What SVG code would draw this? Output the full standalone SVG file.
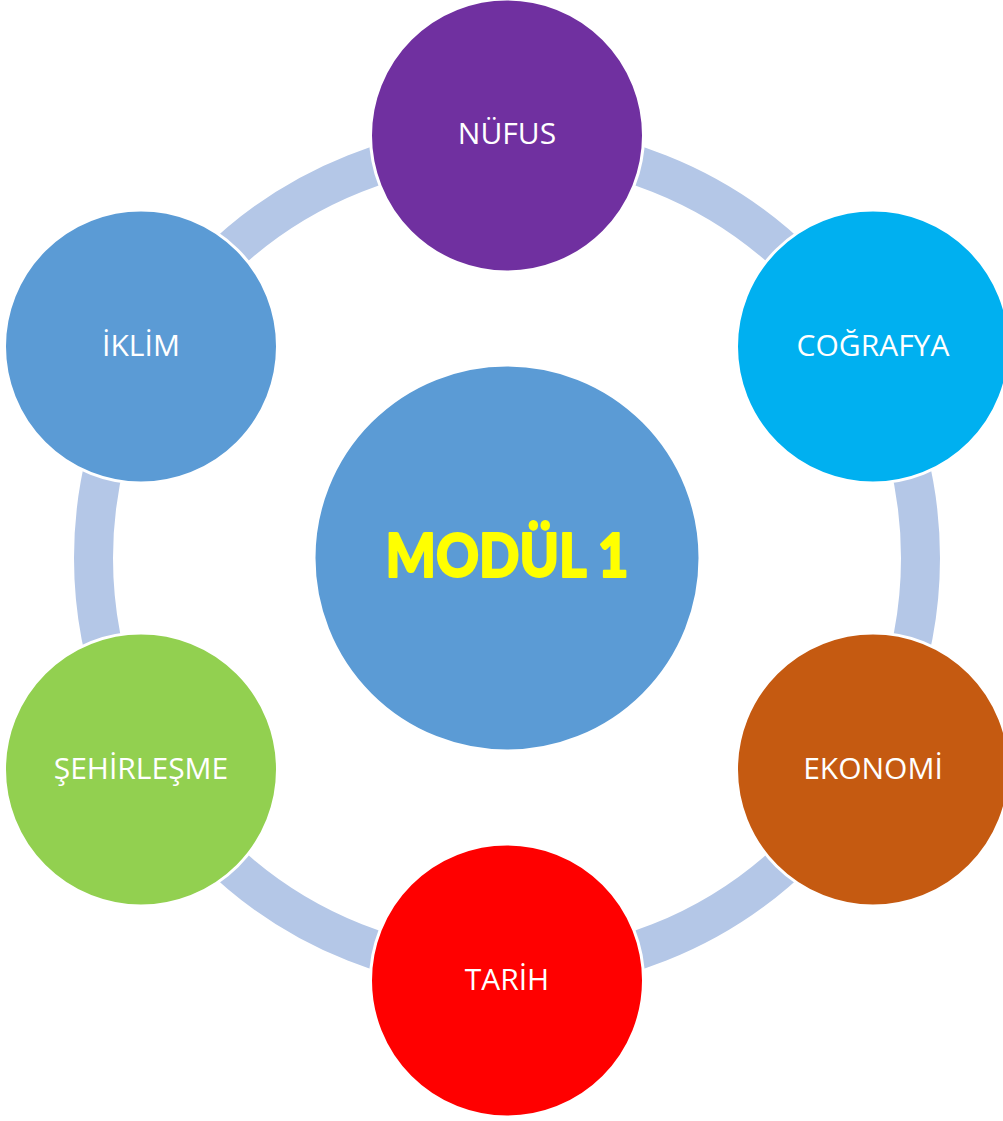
<svg xmlns="http://www.w3.org/2000/svg" width="1003" height="1121" viewBox="0 0 1003 1121">
<style>
.node circle{stroke:#ffffff;stroke-width:3}
.lbl{font-family:"Open Sans","Noto Sans","Liberation Sans",sans-serif;font-size:30px;fill:#ffffff;text-anchor:middle}
.ring{fill:none;stroke:#b4c7e7;stroke-width:39}
</style>
<rect width="1003" height="1121" fill="#ffffff"/>
<g id="connectors">
<circle class="ring" cx="507" cy="558" r="413.5"/>
</g>
<g id="center" class="node">
<circle cx="507" cy="558" r="193" fill="#5b9bd5" stroke="none"/>
<text x="507" y="577" font-family="Lato,'Liberation Sans',sans-serif" font-weight="900" font-size="60" fill="#ffff00" stroke="#ffff00" stroke-width="2" stroke-linejoin="round" text-anchor="middle" textLength="243" lengthAdjust="spacingAndGlyphs">MODÜL 1</text>
</g>
<g id="nufus" class="node">
<circle cx="507" cy="135.5" r="136.5" fill="#7030a0"/>
<text class="lbl" x="507" y="144">NÜFUS</text>
</g>
<g id="cografya" class="node">
<circle cx="873" cy="346.5" r="136.5" fill="#00b0f0"/>
<text class="lbl" x="873" y="356">COĞRAFYA</text>
</g>
<g id="ekonomi" class="node">
<circle cx="873" cy="769.5" r="136.5" fill="#c55a11"/>
<text class="lbl" x="873" y="779">EKONOMİ</text>
</g>
<g id="tarih" class="node">
<circle cx="507" cy="980.5" r="136.5" fill="#ff0000"/>
<text class="lbl" x="507" y="990">TARİH</text>
</g>
<g id="sehirlesme" class="node">
<circle cx="141" cy="769.5" r="136.5" fill="#92d050"/>
<text class="lbl" x="141" y="779">ŞEHİRLEŞME</text>
</g>
<g id="iklim" class="node">
<circle cx="141" cy="346.5" r="136.5" fill="#5b9bd5"/>
<text class="lbl" x="141" y="356">İKLİM</text>
</g>
</svg>
